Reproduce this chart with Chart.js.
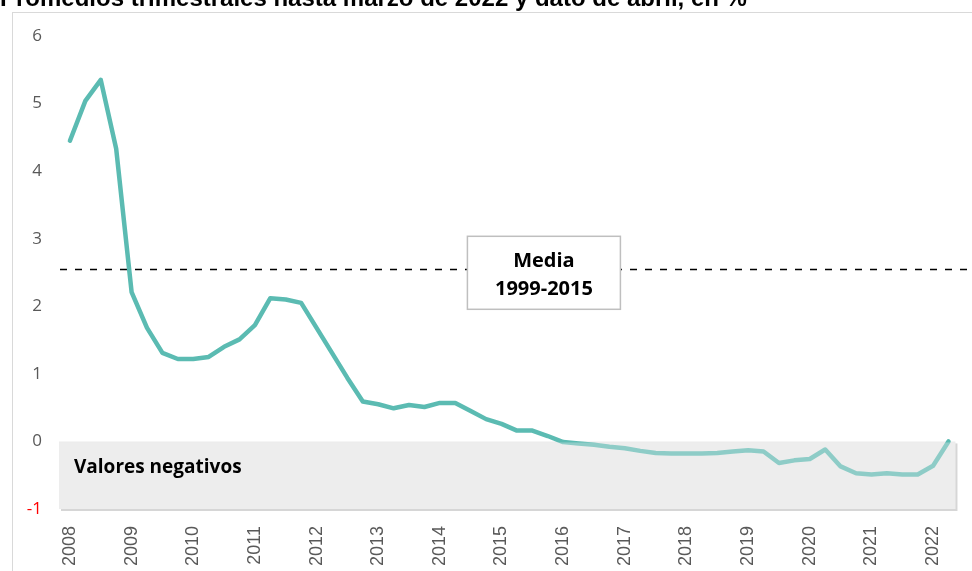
<!DOCTYPE html>
<html>
<head>
<meta charset="utf-8">
<script src="https://cdn.jsdelivr.net/npm/chart.js@4"></script>
<style>
  html, body { margin: 0; padding: 0; background: #fff; overflow: hidden; }
  #wrap { position: relative; width: 972px; height: 571px; }
</style>
</head>
<body>
<div id="wrap"><canvas id="grafico" width="972" height="571"></canvas></div>
<script>
// Datos (promedios trimestrales, %)
const titulo = 'Promedios trimestrales hasta marzo de 2022 y dato de abril, en %';
const anios = ['2008', '2009', '2010', '2011', '2012', '2013', '2014', '2015',
               '2016', '2017', '2018', '2019', '2020', '2021', '2022'];
const tasa = [4.45, 5.04, 5.35, 4.33, 2.21, 1.68, 1.31, 1.22, 1.22, 1.25,
              1.40, 1.51, 1.72, 2.12, 2.10, 2.05, 1.68, 1.31, 0.94, 0.59,
              0.55, 0.49, 0.54, 0.51, 0.57, 0.57, 0.45, 0.33, 0.26, 0.16,
              0.16, 0.08, -0.01, -0.03, -0.05, -0.08, -0.10, -0.14, -0.17, -0.18,
              -0.18, -0.18, -0.17, -0.15, -0.13, -0.15, -0.32, -0.28, -0.26, -0.12,
              -0.37, -0.47, -0.49, -0.47, -0.49, -0.49, -0.36, 0.00];
const mediaHistorica = 2.54;  // media 1999-2015
const textoMedia = ['Media', '1999-2015'];
const textoNegativos = 'Valores negativos';
const ticksY = [-1, 0, 1, 2, 3, 4, 5, 6];

// etiquetas de periodo: trimestres + dato de abril
const periodos = [];
anios.forEach(a => { for (let t = 1; t <= 4; t++) periodos.push(a + 'T' + t); });
periodos.length = 57;
periodos.push('2022 abr');

const puntos = tasa.map((v, i) => ({ x: i, y: v }));

// marco, título, zona negativa y línea de la media
const decoracion = {
    id: 'decoracion',
    beforeDraw(chart) {
        const ctx = chart.ctx;
        ctx.save();
        ctx.strokeStyle = '#d9d9d9';
        ctx.lineWidth = 1;
        ctx.strokeRect(12.5, 12.5, chart.width, chart.height);
        ctx.fillStyle = '#000';
        ctx.font = 'bold 24px "Liberation Sans", Arial, sans-serif';
        ctx.textBaseline = 'alphabetic';
        ctx.fillText(titulo, 0, 6);
        ctx.restore();
    },
    beforeDatasetsDraw(chart) {
        const { ctx, chartArea, scales: { y } } = chart;
        const y0 = y.getPixelForValue(0), y1 = y.getPixelForValue(-1);
        ctx.save();
        ctx.fillStyle = '#d6d6d6';
        ctx.fillRect(chartArea.left + 2, y0 + 2, chartArea.right - chartArea.left, y1 - y0);
        ctx.fillStyle = '#ededed';
        ctx.fillRect(chartArea.left, y0, chartArea.right - chartArea.left, y1 - y0);
        // línea de la media
        const ym = Math.round(y.getPixelForValue(mediaHistorica)) - 0.5;
        ctx.strokeStyle = '#000';
        ctx.lineWidth = 1.6;
        ctx.setLineDash([7, 8]);
        ctx.beginPath();
        ctx.moveTo(chartArea.left + 1, ym);
        ctx.lineTo(chart.width, ym);
        ctx.stroke();
        ctx.restore();
    },
    afterDatasetsDraw(chart) {
        const { ctx, chartArea, scales: { x, y } } = chart;
        const y0 = y.getPixelForValue(0), y1 = y.getPixelForValue(-1);
        ctx.save();
        ctx.fillStyle = 'rgba(237,237,237,0.35)';
        ctx.fillRect(chartArea.left, y0 + 1, chartArea.right - chartArea.left, y1 - y0 - 1);
        ctx.fillStyle = '#000';
        ctx.font = 'bold 19px "Open Sans", sans-serif';
        ctx.textBaseline = 'middle';
        ctx.fillText(textoNegativos, chartArea.left + 15, (y0 + y1) / 2 - 8);
        // recuadro de la media
        const cx = x.getPixelForValue(30.75), cy = y.getPixelForValue(mediaHistorica) + 3;
        const w = 153, h = 73;
        ctx.fillStyle = '#fff';
        ctx.fillRect(cx - w / 2, cy - h / 2, w, h);
        ctx.strokeStyle = '#bfbfbf';
        ctx.lineWidth = 1.5;
        ctx.strokeRect(cx - w / 2, cy - h / 2, w, h);
        ctx.fillStyle = '#000';
        ctx.textAlign = 'center';
        ctx.font = 'bold 20px "Open Sans", sans-serif';
        ctx.fillText(textoMedia[0], cx, cy - 12);
        ctx.fillText(textoMedia[1], cx, cy + 16);
        ctx.restore();
    }
};

new Chart(document.getElementById('grafico'), {
    type: 'line',
    data: {
        labels: periodos,
        datasets: [{
            label: 'Tasa',
            data: puntos,
            borderColor: '#5bbbb2',
            borderWidth: 4.5,
            pointRadius: 0,
            tension: 0,
            borderJoinStyle: 'round',
            borderCapStyle: 'round',
            clip: false
        }]
    },
    options: {
        responsive: false,
        animation: false,
        events: [],
        layout: { padding: { top: 36, right: 12, left: 0, bottom: 0 } },
        plugins: { legend: { display: false }, tooltip: { enabled: false } },
        scales: {
            x: {
                type: 'linear',
                min: -0.71,
                max: 57.45,
                grid: { display: false, drawTicks: false },
                border: { display: false },
                afterFit(s) { s.height = 62; },
                ticks: {
                    stepSize: 4,
                    includeBounds: false,
                    autoSkip: false,
                    minRotation: 90,
                    maxRotation: 90,
                    padding: 17,
                    color: '#595959',
                    font: { family: '"Liberation Sans", Arial, sans-serif', size: 18 },
                    callback: v => anios[v / 4]
                }
            },
            y: {
                min: -1,
                max: 6,
                afterFit(s) { s.width = 59; },
                afterBuildTicks(s) { s.ticks = ticksY.map(v => ({ value: v })); },
                grid: { display: false, drawTicks: false },
                border: { display: false },
                ticks: {
                    padding: 17,
                    font: { family: '"Open Sans", sans-serif', size: 17 },
                    color: c => c.tick.value < 0 ? '#ff0000' : '#595959'
                }
            }
        }
    },
    plugins: [decoracion]
});
</script>
</body>
</html>
